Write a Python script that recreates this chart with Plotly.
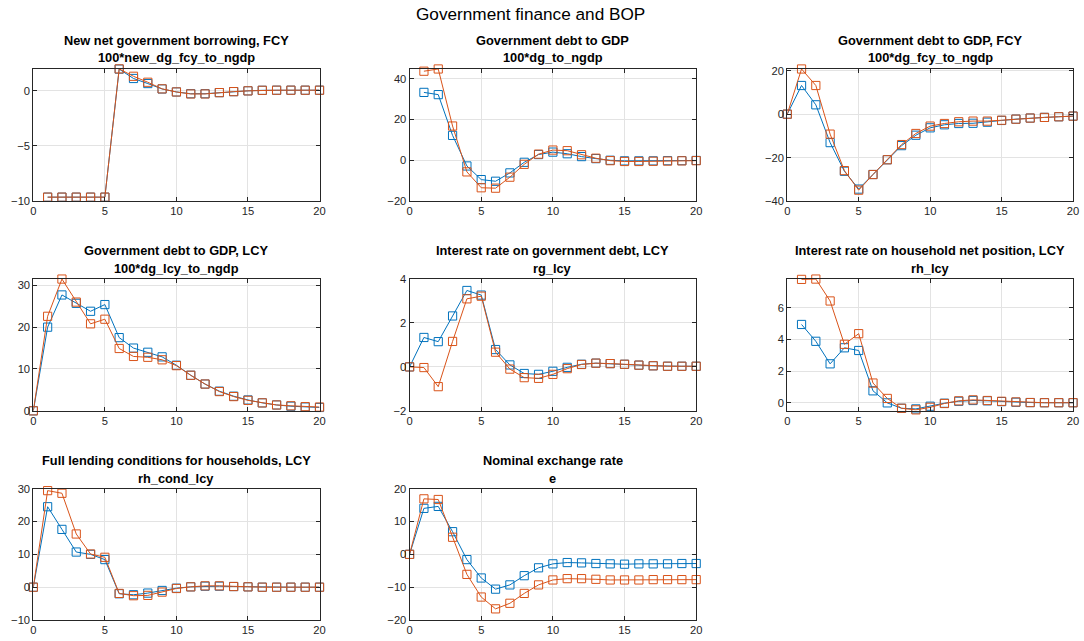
import plotly.graph_objects as go

periods = list(range(0, 21))
periods_from1 = list(range(1, 21))

# Panel 1: New net government borrowing, FCY (periods 1..20)
p1_blue = [-9.65, -9.65, -9.65, -9.65, -9.65, 1.95, 1.1, 0.64, 0.15, -0.12, -0.28, -0.28, -0.18, -0.09, -0.02, 0.03, 0.04, 0.04, 0.04, 0.04]
p1_orange = [-9.65, -9.65, -9.65, -9.65, -9.65, 1.97, 1.3, 0.76, 0.16, -0.12, -0.3, -0.3, -0.18, -0.09, -0.02, 0.03, 0.04, 0.04, 0.04, 0.04]

# Panel 2: Government debt to GDP (periods 1..20)
p2_blue = [33.3, 32.2, 12.2, -2.8, -9.5, -10.3, -6.2, -1.0, 2.8, 4.0, 3.2, 1.8, 0.8, 0.0, -0.3, -0.3, -0.3, -0.2, -0.2, -0.1]
p2_orange = [43.7, 44.8, 16.8, -5.7, -13.5, -13.7, -8.3, -2.0, 3.0, 5.0, 4.7, 2.7, 1.0, -0.2, -0.6, -0.6, -0.5, -0.4, -0.3, -0.2]

# Panel 3: Government debt to GDP, FCY (periods 0..20)
p3_blue = [0, 13.2, 4.3, -13.1, -26.3, -34.5, -27.8, -21.0, -14.5, -9.7, -6.3, -4.9, -4.3, -4.2, -3.7, -2.9, -2.3, -1.8, -1.5, -1.2, -0.9]
p3_orange = [0, 20.8, 13.2, -9.2, -26.0, -35.0, -27.8, -21.0, -14.0, -8.9, -5.5, -4.3, -3.5, -3.2, -3.2, -2.8, -2.3, -1.8, -1.5, -1.2, -0.9]

# Panel 4: Government debt to GDP, LCY (periods 0..20)
p4_blue = [0, 20.0, 27.7, 25.7, 23.8, 25.4, 17.5, 15.0, 14.0, 12.9, 10.9, 8.5, 6.4, 4.7, 3.5, 2.6, 1.9, 1.4, 1.1, 0.9, 0.8]
p4_orange = [0, 22.6, 31.5, 26.0, 20.8, 21.9, 14.9, 13.0, 12.8, 12.2, 10.8, 8.5, 6.4, 4.6, 3.4, 2.5, 1.9, 1.4, 1.2, 1.0, 0.9]

# Panel 5: rg_lcy (periods 0..20)
p5_blue = [0, 1.34, 1.15, 2.32, 3.48, 3.27, 0.79, 0.09, -0.3, -0.34, -0.2, -0.02, 0.12, 0.17, 0.15, 0.12, 0.08, 0.05, 0.03, 0.03, 0.03]
p5_orange = [0, -0.03, -0.9, 1.16, 3.1, 3.22, 0.67, -0.1, -0.49, -0.52, -0.34, -0.08, 0.11, 0.17, 0.15, 0.12, 0.08, 0.05, 0.03, 0.03, 0.03]

# Panel 6: rh_lcy (periods 1..20)
p6_blue = [4.94, 3.88, 2.46, 3.47, 3.3, 0.76, 0.0, -0.34, -0.38, -0.21, -0.02, 0.1, 0.15, 0.13, 0.08, 0.04, 0.02, 0.01, 0.01, 0.01]
p6_orange = [7.78, 7.8, 6.42, 3.69, 4.36, 1.25, 0.28, -0.34, -0.44, -0.28, -0.04, 0.13, 0.19, 0.15, 0.1, 0.06, 0.02, 0.01, 0.01, 0.01]

# Panel 7: rh_cond_lcy (periods 0..20)
p7_blue = [0, 24.5, 17.6, 10.7, 10.0, 8.4, -2.0, -2.3, -1.8, -1.0, -0.3, 0.1, 0.3, 0.3, 0.2, 0.1, 0, 0, 0, 0, 0]
p7_orange = [0, 29.4, 28.6, 16.2, 10.1, 9.1, -1.9, -2.6, -2.5, -1.5, -0.4, 0.1, 0.4, 0.4, 0.2, 0.1, 0, 0, 0, 0, 0]

# Panel 8: e (periods 0..20)
p8_blue = [0, 14.0, 14.6, 6.9, -1.6, -7.2, -10.6, -9.3, -6.5, -4.1, -2.9, -2.5, -2.6, -2.8, -2.9, -3.0, -2.9, -2.9, -2.9, -2.8, -2.8]
p8_orange = [0, 16.9, 16.7, 5.2, -6.1, -13.0, -16.6, -14.9, -11.9, -9.3, -7.8, -7.4, -7.4, -7.6, -7.8, -7.8, -7.8, -7.7, -7.7, -7.7, -7.7]

titles = [
    ("New net government borrowing, FCY", "100*new_dg_fcy_to_ngdp"),
    ("Government debt to GDP", "100*dg_to_ngdp"),
    ("Government debt to GDP, FCY", "100*dg_fcy_to_ngdp"),
    ("Government debt to GDP, LCY", "100*dg_lcy_to_ngdp"),
    ("Interest rate on government debt, LCY", "rg_lcy"),
    ("Interest rate on household net position, LCY", "rh_lcy"),
    ("Full lending conditions for households, LCY", "rh_cond_lcy"),
    ("Nominal exchange rate", "e"),
]
main_title = "Government finance and BOP"

panels = [
    (periods_from1, p1_blue, p1_orange, [-10, 2], 5),
    (periods_from1, p2_blue, p2_orange, [-20, 45], 20),
    (periods, p3_blue, p3_orange, [-40, 21], 20),
    (periods, p4_blue, p4_orange, [0, 31.5], 10),
    (periods, p5_blue, p5_orange, [-2, 4], 2),
    (periods_from1, p6_blue, p6_orange, [-0.5, 7.8], 2),
    (periods, p7_blue, p7_orange, [-10, 30], 10),
    (periods, p8_blue, p8_orange, [-20, 20], 10),
]

W, H = 1084, 641
# target pixel boxes (in the final picture)
col_px = [(33.3, 319.3), (409.3, 695.7), (786.7, 1072.3)]
row_px = [(70, 201.7), (279.3, 410.3), (487.7, 618.3)]

BLUE = "#0072BD"
ORANGE = "#D95319"
AX = "#262626"
FONT = "Liberation Sans, Arial, sans-serif"

SY = 657 / 641


def px_x(p):
    return ((p - 3) / 0.991) / W


def px_y(p):
    return 1 - (p * SY - 8) / H


fig = go.Figure()
layout = dict(
    width=W, height=H, autosize=False,
    margin=dict(l=0, r=0, t=0, b=0),
    paper_bgcolor="white", plot_bgcolor="white",
    showlegend=False, hovermode=False,
    font=dict(family=FONT, color=AX, size=11.2),
)
annotations = []

for i, (xs, yb, yo, yr, dt) in enumerate(panels):
    r, c = divmod(i, 3)
    n = i + 1
    xa = "x" if n == 1 else f"x{n}"
    ya = "y" if n == 1 else f"y{n}"
    for ys, col in ((yb, BLUE), (yo, ORANGE)):
        fig.add_trace(go.Scatter(
            x=xs, y=ys, mode="lines+markers", xaxis=xa, yaxis=ya,
            line=dict(color=col, width=1),
            marker=dict(symbol="square-open", size=8.2, color=col, line=dict(width=1, color=col)),
            cliponaxis=False,
        ))
    x0, x1 = col_px[c]
    t0, t1 = row_px[r]
    axis_common = dict(
        showline=True, mirror="ticks", linecolor=AX, linewidth=1,
        ticks="inside", ticklen=4, tickcolor=AX,
        showgrid=True, gridcolor="#e3e3e3", gridwidth=1,
        zeroline=False, tickfont=dict(family=FONT, size=11.2, color=AX),
    )
    layout["xaxis" if n == 1 else f"xaxis{n}"] = dict(
        axis_common, domain=[px_x(x0), px_x(x1)], range=[0, 20], dtick=5, tick0=0,
        anchor=ya,
    )
    layout["yaxis" if n == 1 else f"yaxis{n}"] = dict(
        axis_common, domain=[px_y(t1), px_y(t0)], range=yr, dtick=dt, tick0=0,
        anchor=xa,
    )
    cx = px_x((x0 + x1) / 2)
    l1, l2 = titles[i]
    annotations.append(dict(x=cx, y=px_y(t0 - 28), xref="paper", yref="paper",
                            text=f"<b>{l1}</b>", showarrow=False, xanchor="center", yanchor="middle",
                            font=dict(family=FONT, size=12.8, color="black")))
    annotations.append(dict(x=cx, y=px_y(t0 - 10.5), xref="paper", yref="paper",
                            text=f"<b>{l2}</b>", showarrow=False, xanchor="center", yanchor="middle",
                            font=dict(family=FONT, size=12.8, color="black")))

annotations.append(dict(x=px_x(530), y=px_y(16), xref="paper", yref="paper", text=main_title,
                        showarrow=False, xanchor="center", yanchor="middle",
                        font=dict(family=FONT, size=17.2, color="black")))
layout["annotations"] = annotations
fig.update_layout(**layout)
fig.write_html(
    "out.html",
    config={"displayModeBar": False, "staticPlot": True},
    post_script="document.body.style.margin='0px';document.body.style.overflow='hidden';",
)
